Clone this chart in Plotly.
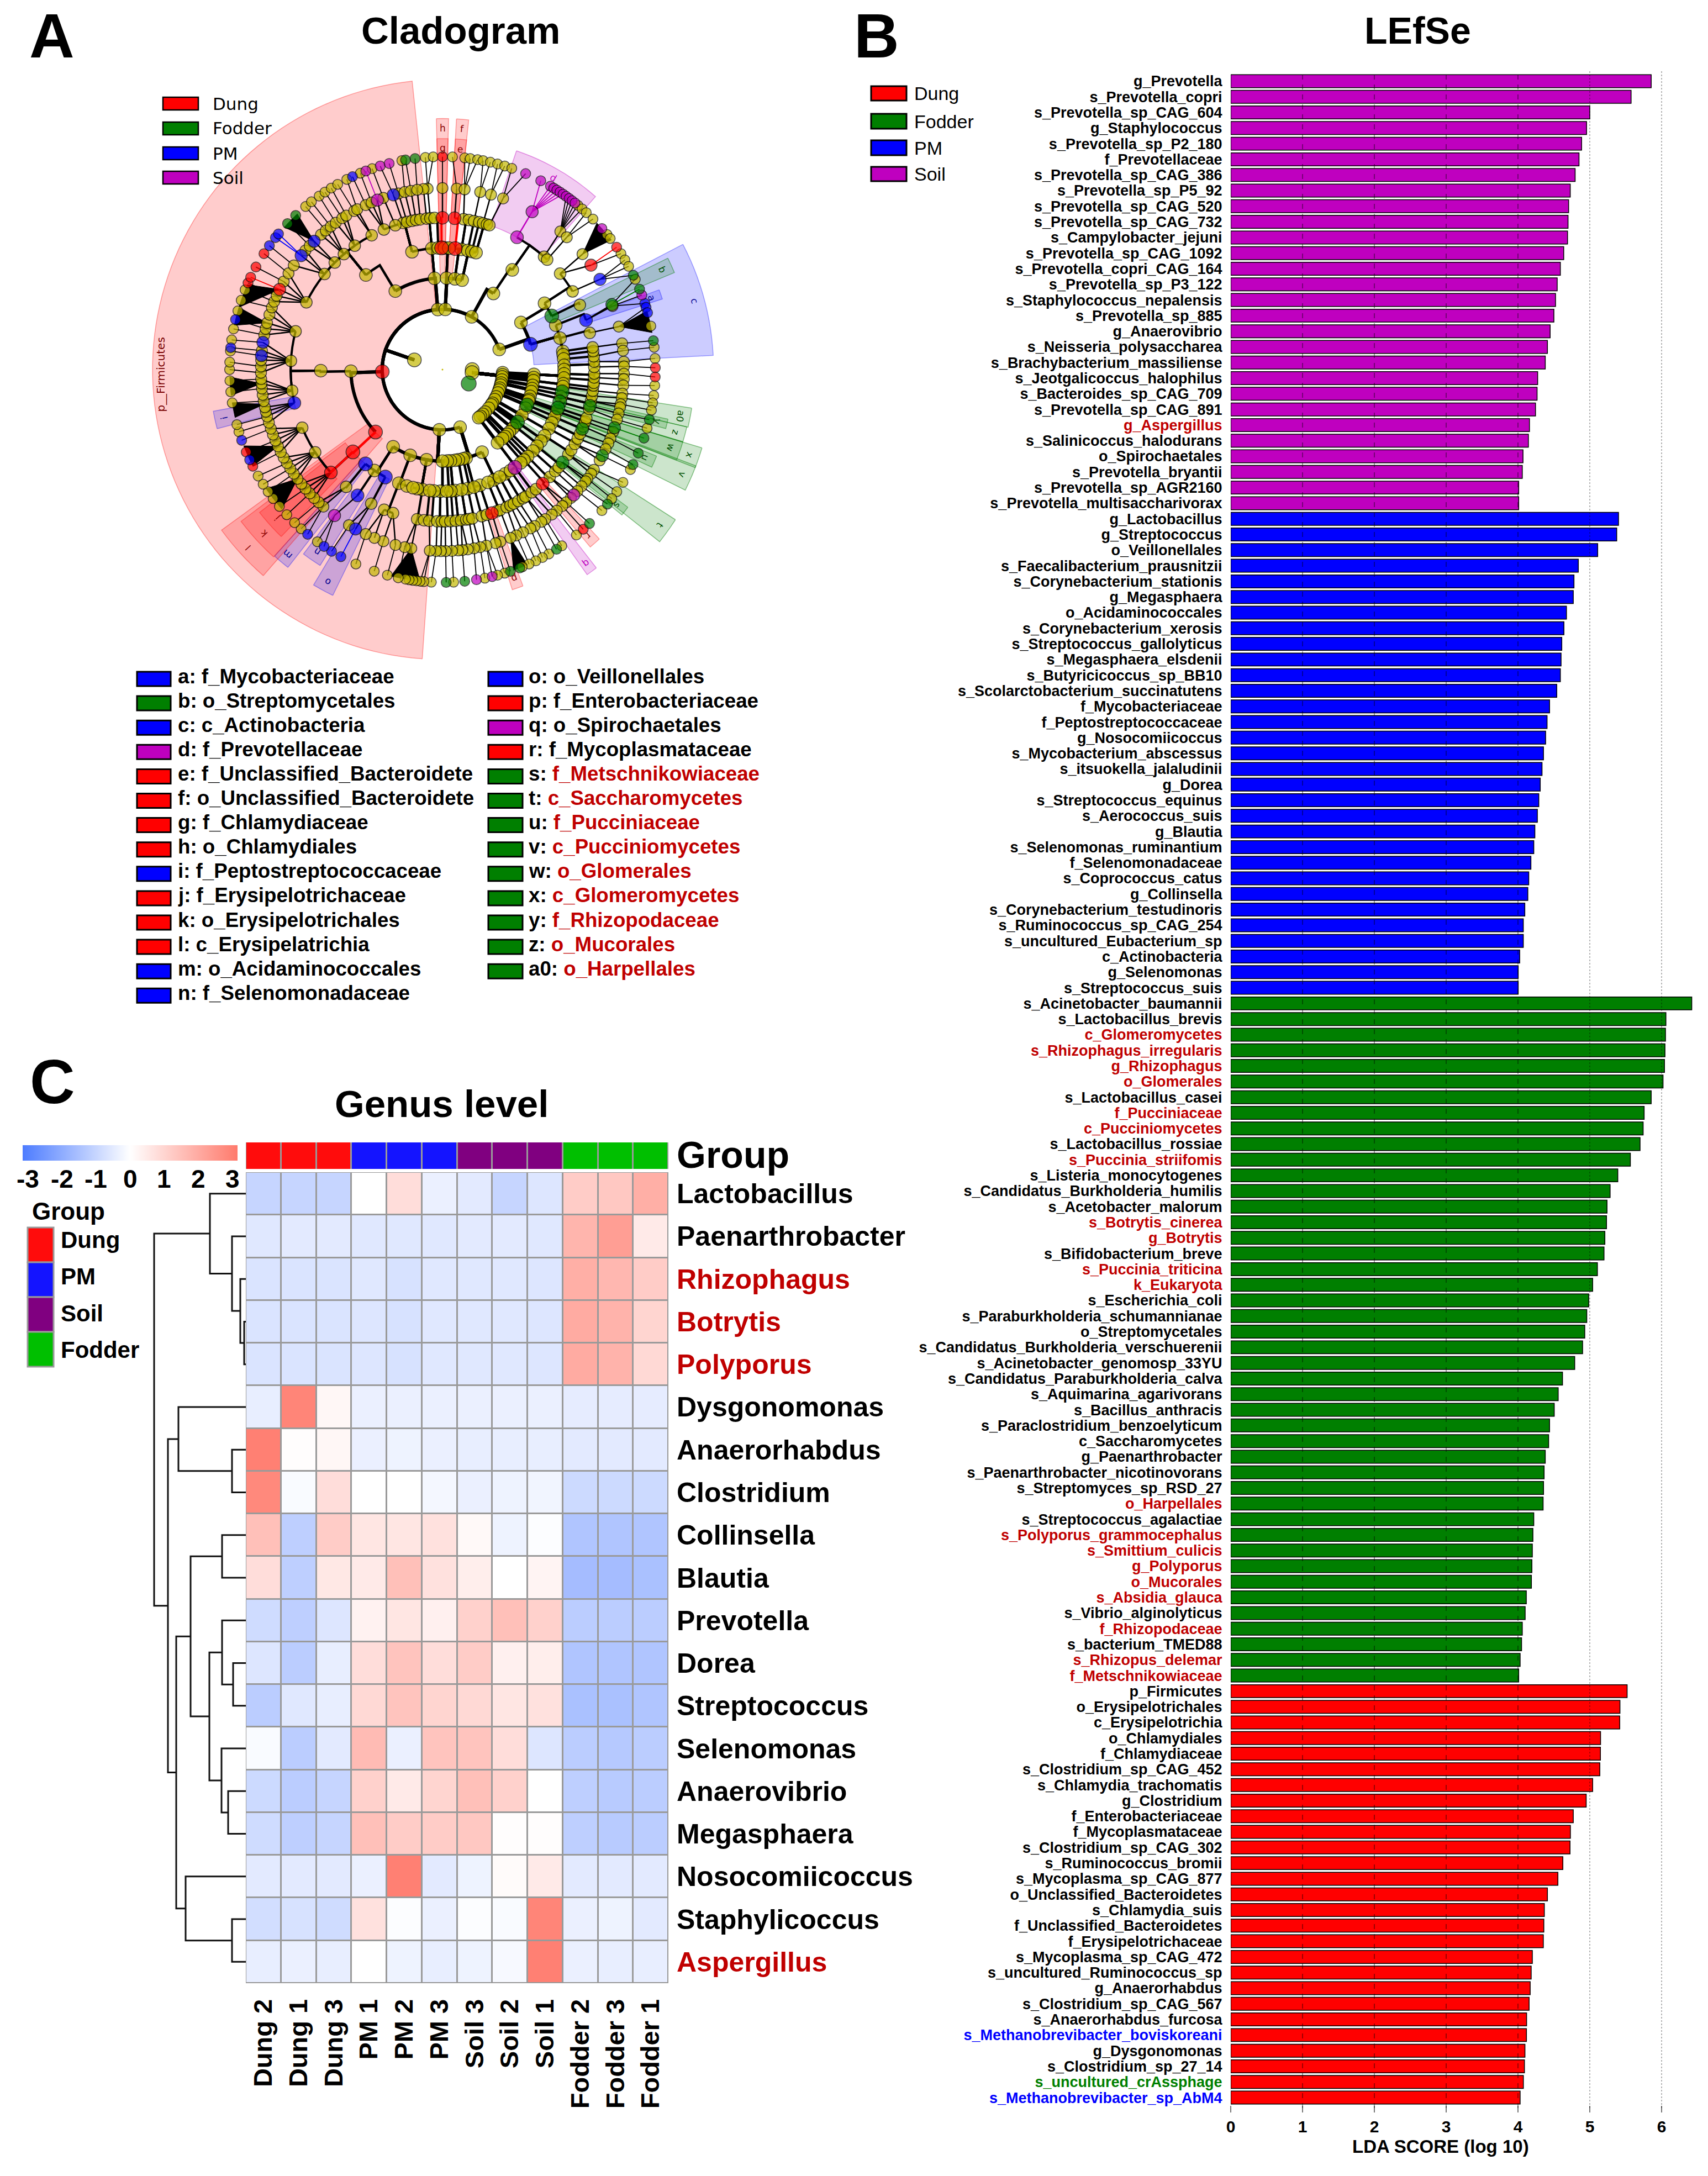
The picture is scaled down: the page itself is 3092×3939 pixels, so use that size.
import math
import plotly.graph_objects as go

W, H = 3092, 3939
ARIAL = "Liberation Sans"
RED, GREEN, BLUE, PURPLE, OLIVE = "#FF0000", "#007F00", "#0000FF", "#BF00BF", "#C4B800"
DARKRED = "#C00000"

# ------------------------------------------------------------------ LEfSe data
SOIL_NAMES = ["g_Prevotella", "s_Prevotella_copri", "s_Prevotella_sp_CAG_604", "g_Staphylococcus", "s_Prevotella_sp_P2_180", "f_Prevotellaceae", "s_Prevotella_sp_CAG_386", "s_Prevotella_sp_P5_92", "s_Prevotella_sp_CAG_520", "s_Prevotella_sp_CAG_732", "s_Campylobacter_jejuni", "s_Prevotella_sp_CAG_1092", "s_Prevotella_copri_CAG_164", "s_Prevotella_sp_P3_122", "s_Staphylococcus_nepalensis", "s_Prevotella_sp_885", "g_Anaerovibrio", "s_Neisseria_polysaccharea", "s_Brachybacterium_massiliense", "s_Jeotgalicoccus_halophilus", "s_Bacteroides_sp_CAG_709", "s_Prevotella_sp_CAG_891", "g_Aspergillus", "s_Salinicoccus_halodurans", "o_Spirochaetales", "s_Prevotella_bryantii", "s_Prevotella_sp_AGR2160", "s_Prevotella_multisaccharivorax"]
SOIL_VALUES = [5.855, 5.575, 5.0, 4.955, 4.886, 4.85, 4.796, 4.728, 4.705, 4.697, 4.69, 4.637, 4.59, 4.546, 4.523, 4.5, 4.448, 4.41, 4.38, 4.274, 4.266, 4.244, 4.16, 4.145, 4.07, 4.06, 4.01, 4.01]
PM_NAMES = ["g_Lactobacillus", "g_Streptococcus", "o_Veillonellales", "s_Faecalibacterium_prausnitzii", "s_Corynebacterium_stationis", "g_Megasphaera", "o_Acidaminococcales", "s_Corynebacterium_xerosis", "s_Streptococcus_gallolyticus", "s_Megasphaera_elsdenii", "s_Butyricicoccus_sp_BB10", "s_Scolarctobacterium_succinatutens", "f_Mycobacteriaceae", "f_Peptostreptococcaceae", "g_Nosocomiicoccus", "s_Mycobacterium_abscessus", "s_itsuokella_jalaludinii", "g_Dorea", "s_Streptococcus_equinus", "s_Aerococcus_suis", "g_Blautia", "s_Selenomonas_ruminantium", "f_Selenomonadaceae", "s_Coprococcus_catus", "g_Collinsella", "s_Corynebacterium_testudinoris", "s_Ruminococcus_sp_CAG_254", "s_uncultured_Eubacterium_sp", "c_Actinobacteria", "g_Selenomonas", "s_Streptococcus_suis"]
PM_VALUES = [5.40, 5.375, 5.11, 4.84, 4.78, 4.77, 4.675, 4.64, 4.61, 4.60, 4.59, 4.54, 4.44, 4.405, 4.385, 4.355, 4.335, 4.31, 4.29, 4.27, 4.235, 4.22, 4.18, 4.15, 4.137, 4.095, 4.074, 4.074, 4.024, 4.003, 4.003]
FODDER_NAMES = ["s_Acinetobacter_baumannii", "s_Lactobacillus_brevis", "c_Glomeromycetes", "s_Rhizophagus_irregularis", "g_Rhizophagus", "o_Glomerales", "s_Lactobacillus_casei", "f_Pucciniaceae", "c_Pucciniomycetes", "s_Lactobacillus_rossiae", "s_Puccinia_striifomis", "s_Listeria_monocytogenes", "s_Candidatus_Burkholderia_humilis", "s_Acetobacter_malorum", "s_Botrytis_cinerea", "g_Botrytis", "s_Bifidobacterium_breve", "s_Puccinia_triticina", "k_Eukaryota", "s_Escherichia_coli", "s_Paraburkholderia_schumannianae", "o_Streptomycetales", "s_Candidatus_Burkholderia_verschuerenii", "s_Acinetobacter_genomosp_33YU", "s_Candidatus_Paraburkholderia_calva", "s_Aquimarina_agarivorans", "s_Bacillus_anthracis", "s_Paraclostridium_benzoelyticum", "c_Saccharomycetes", "g_Paenarthrobacter", "s_Paenarthrobacter_nicotinovorans", "s_Streptomyces_sp_RSD_27", "o_Harpellales", "s_Streptococcus_agalactiae", "s_Polyporus_grammocephalus", "s_Smittium_culicis", "g_Polyporus", "o_Mucorales", "s_Absidia_glauca", "s_Vibrio_alginolyticus", "f_Rhizopodaceae", "s_bacterium_TMED88", "s_Rhizopus_delemar", "f_Metschnikowiaceae"]
FODDER_VALUES = [6.42, 6.06, 6.054, 6.047, 6.04, 6.02, 5.855, 5.757, 5.743, 5.70, 5.565, 5.39, 5.283, 5.24, 5.233, 5.21, 5.198, 5.106, 5.04, 4.985, 4.958, 4.93, 4.90, 4.79, 4.62, 4.56, 4.505, 4.44, 4.427, 4.38, 4.364, 4.356, 4.35, 4.22, 4.208, 4.20, 4.194, 4.187, 4.116, 4.10, 4.06, 4.05, 4.03, 4.01]
DUNG_NAMES = ["p_Firmicutes", "o_Erysipelotrichales", "c_Erysipelotrichia", "o_Chlamydiales", "f_Chlamydiaceae", "s_Clostridium_sp_CAG_452", "s_Chlamydia_trachomatis", "g_Clostridium", "f_Enterobacteriaceae", "f_Mycoplasmataceae", "s_Clostridium_sp_CAG_302", "s_Ruminococcus_bromii", "s_Mycoplasma_sp_CAG_877", "o_Unclassified_Bacteroidetes", "s_Chlamydia_suis", "f_Unclassified_Bacteroidetes", "f_Erysipelotrichaceae", "s_Mycoplasma_sp_CAG_472", "s_uncultured_Ruminococcus_sp", "g_Anaerorhabdus", "s_Clostridium_sp_CAG_567", "s_Anaerorhabdus_furcosa", "s_Methanobrevibacter_boviskoreani", "g_Dysgonomonas", "s_Clostridium_sp_27_14", "s_uncultured_crAssphage", "s_Methanobrevibacter_sp_AbM4"]
DUNG_VALUES = [5.52, 5.42, 5.417, 5.15, 5.148, 5.14, 5.04, 4.95, 4.77, 4.73, 4.725, 4.625, 4.556, 4.41, 4.367, 4.36, 4.353, 4.20, 4.184, 4.17, 4.155, 4.12, 4.118, 4.097, 4.09, 4.075, 4.03]
RED_LABELS = ["g_Aspergillus", "c_Glomeromycetes", "s_Rhizophagus_irregularis", "g_Rhizophagus", "o_Glomerales", "f_Pucciniaceae", "c_Pucciniomycetes", "s_Puccinia_striifomis", "s_Botrytis_cinerea", "g_Botrytis", "s_Puccinia_triticina", "k_Eukaryota", "o_Harpellales", "s_Polyporus_grammocephalus", "s_Smittium_culicis", "g_Polyporus", "o_Mucorales", "s_Absidia_glauca", "f_Rhizopodaceae", "s_Rhizopus_delemar", "f_Metschnikowiaceae"]
BLUE_LABELS = ["s_Methanobrevibacter_boviskoreani", "s_Methanobrevibacter_sp_AbM4"]
GREEN_LABELS = ["s_uncultured_crAssphage"]
LDA_TICKS = [0, 1, 2, 3, 4, 5, 6]

# ------------------------------------------------------------------ heatmap data
GENERA = ["Lactobacillus", "Paenarthrobacter", "Rhizophagus", "Botrytis", "Polyporus", "Dysgonomonas", "Anaerorhabdus", "Clostridium", "Collinsella", "Blautia", "Prevotella", "Dorea", "Streptococcus", "Selenomonas", "Anaerovibrio", "Megasphaera", "Nosocomiicoccus", "Staphylicoccus", "Aspergillus"]
RED_GENERA = ["Rhizophagus", "Botrytis", "Polyporus", "Aspergillus"]
SAMPLES = ["Dung 2", "Dung 1", "Dung 3", "PM 1", "PM 2", "PM 3", "Soil 3", "Soil 2", "Soil 1", "Fodder 2", "Fodder 3", "Fodder 1"]
SAMPLE_GROUP = [0, 0, 0, 1, 1, 1, 2, 2, 2, 3, 3, 3]
SCALE_TICKS = [-3, -2, -1, 0, 1, 2, 3]
HEAT = [
    [-1, -1, -1, 0.0, .8, -.35, -.5, -1, -.6, 1.2, 1.3, 1.9],
    [-.55, -.5, -.5, -.55, -.55, -.55, -.5, -.5, -.55, 1.75, 2.3, .5],
    [-.65, -.65, -.65, -.55, -.7, -.55, -.55, -.55, -.6, 1.9, 1.7, 1.2],
    [-.65, -.65, -.65, -.6, -.7, -.55, -.55, -.55, -.6, 2.0, 1.8, 1.0],
    [-.65, -.65, -.65, -.6, -.7, -.55, -.55, -.55, -.6, 2.0, 1.8, .9],
    [-.4, 2.9, .2, -.35, -.35, -.35, -.35, -.35, -.35, -.45, -.45, -.45],
    [3, .05, .2, -.35, -.3, -.35, -.4, -.4, -.4, -.5, -.5, -.5],
    [2.8, -.1, .8, 0, 0, -.2, -.35, -.3, -.25, -.9, -.9, -.9],
    [1.5, -1.15, 1.2, .6, .6, .7, .15, -.3, -.05, -1.4, -1.4, -1.4],
    [.8, -1.15, .55, .5, 1.5, .7, .4, .0, .25, -1.6, -1.6, -1.5],
    [-.85, -1.15, -.6, .3, .6, .35, 1.1, 1.5, 1.1, -1.2, -1.2, -1.2],
    [-.6, -1.2, -.4, .8, 1.4, .8, 1.2, .35, .4, -1.4, -1.4, -1.4],
    [-1.2, -.55, -.4, .9, 1.4, 1.0, .9, .6, .7, -1.5, -1.5, -1.4],
    [-.1, -1.2, -.5, 1.6, -.35, 1.4, 1.4, .8, -.6, -1.2, -1.3, -1.2],
    [-.9, -1.2, -1.0, 1.1, .5, 1.0, 1.5, 1.1, 0, -1.15, -1.25, -1.2],
    [-.85, -1.15, -1.0, 1.5, 1.2, 1.2, 1.3, .05, .05, -1.15, -1.25, -1.2],
    [-.5, -.5, -.5, -.35, 3, -.5, -.3, .1, .5, -.5, -.5, -.5],
    [-.8, -.7, -.85, .7, -.05, -.35, -.05, -.1, 2.9, -.35, -.3, -.5],
    [-.4, -.35, -.4, 0, -.3, -.4, -.3, -.15, 3, -.35, -.4, -.4],
]
# (left id, right id, height); leaves are 0-18, each merge takes the next id
MERGES = [(3, 4, 3), (2, 19, 10), (1, 20, 25), (0, 21, 65), (6, 7, 25), (5, 23, 122), (8, 9, 43), (11, 12, 23), (10, 26, 43), (14, 15, 32), (13, 28, 44), (27, 29, 66), (25, 30, 100), (17, 18, 25), (16, 32, 109), (31, 33, 126), (24, 34, 141), (22, 35, 166)]
GROUP_COLORS = ["#FF0C0C", "#1414FF", "#800080", "#00BF00"]
GROUP_NAMES = ["Dung", "PM", "Soil", "Fodder"]

# ------------------------------------------------------------------ cladogram data
# theta: degrees clockwise from north, r: ring radius
RINGS = [74, 150, 228, 303, 378, 452, 530]
RING_SIZES = [25, 23, 23, 23, 21, 20, 18]
RING_WIDTHS = [0, 6, 6, 4.5, 4, 2.5, 1.8]
R0 = {"y": [289, 90, 96], "g": [118]}
R1_BACTERIA = {"y": [355.5, 2.7, 29, 70.5, 163, 183], "r": [268]}
R1_EUKARYA = {"y": [93, 95, 97, 100, 103, 105, 108, 110, 113, 117, 120, 124, 126, 130, 135, 138, 141, 143]}
R2 = {"y": [355, 2.5, 7.8, 12.4, 33.8, 329, 59, 269, 93, 95, 97, 100, 102, 104, 107, 109, 110, 115, 120, 128, 130, 133, 135, 137, 139, 143, 154.4, 165, 167, 170, 172, 175, 177, 180, 190, 200.6, 212.6], "r": [227], "b": [74], "g": [112.7, 125]}
R3 = {"y": [355, 358, 1, 3, 9, 12, 14, 16, 35, 345.5, 321, 269.5, 214, 201, 197, 189.5, 181, 174, 168, 162, 155, 149, 57, 68.6, 75, 81.4, 83, 85, 88, 90, 92, 94, 96.7, 98, 103, 110, 113, 116, 119, 123, 126, 129, 132, 135.6, 138, 140, 146, 152, 158, 165, 171, 176, 178, 184, 186, 192, 194], "r": [359.6, 6, 227.4], "b": [219.2, 208], "p": [143.5], "g": [63.9, 100.5, 105.4, 108.4]}
R4 = {"y": [345, 346.5, 348.4, 350, 351.6, 354, 355.4, 357, 8, 10, 12, 14, 15.5, 17, 18, 42, 43.6, 50.8, 341.9, 337.3, 332.2, 324.7, 319.5, 314.8, 309, 296.3, 284.6, 273.3, 262, 247.5, 237, 219.4, 208, 202.6, 199, 189.6, 187, 185, 182, 180.3, 179, 177, 175, 173, 171, 170, 168.6, 165, 163, 159, 157.7, 155, 153.4, 152, 150, 148, 146.8, 144, 142, 135, 132, 130, 124, 122, 119.3, 117, 115, 112, 110, 108.7, 105, 102, 100, 98, 96, 95, 93, 91.5, 89, 87, 85, 83, 81.6, 76, 64.8, 59], "r": [0, 4.6, 227.3, 161, 138.7], "b": [214, 257.3, 71], "p": [29.4], "g": [127.7, 113, 103.8]}
R5 = {"y": [355.3, 354, 0, 4.5, 7, 12, 15.5, 19.5, 40.5, 43.2, 50.5, 69.5, 76.3, 81.7, 84, 87.5, 89, 91.3, 93, 95, 97.6, 99, 101, 102, 104, 106, 110, 112.3, 114, 116, 120, 123.5, 125, 127, 128, 130, 132, 135, 137, 138.7, 141, 143, 145.5, 147, 149.5, 151, 153.7, 156, 158, 161.4, 163, 166, 168, 170, 172, 173.7, 175, 177, 179, 180.5, 182, 184, 189.9, 192, 195, 199, 202, 205, 211, 221, 223, 225, 227, 229, 231, 233, 235, 237, 239, 241, 243, 245, 247, 249, 251, 253, 255, 256.6, 258, 260, 262, 264, 265.6, 267, 269, 271, 273, 276, 281, 283, 284.9, 287.6, 290, 292, 294, 299, 302, 305, 311, 313, 318, 320, 322, 324, 326.5, 328, 330.9, 332, 335, 337, 341, 346, 348, 350, 352], "r": [54.9, 296.2], "b": [60.2, 208.6, 274.4, 278.6, 308.9, 315, 344.3], "p": [29.6, 133.7, 216.5, 339], "g": [69, 108.7, 118.3]}
R6 = {
    "y": [2.7, 6, 7.5, 9.5, 11, 13, 15, 17, 19, 39.5, 41, 42.5, 45, 50.6, 52, 57, 59, 61, 64.9, 78.2, 84, 87, 94.3, 97, 99, 101, 106, 118, 122, 125, 127.3, 131.5, 141, 145.9, 150, 152, 154, 156, 158, 163, 165, 168.5, 177, 183, 185, 186, 187, 188, 189, 190, 192, 195, 198.7, 204, 216, 221.6, 224, 227, 230, 232.7, 235, 237.4, 240, 253, 255, 261, 264, 267, 270, 272, 275, 278, 281, 286, 289, 292, 320, 322, 324.6, 326.5, 328.5, 330.5, 333.3, 337.3, 340.7, 349, 355.4, 357.5],
    "r": [0, 54.9, 89.5, 92, 138.6, 243, 247.2, 294, 295.7, 298.8, 303],
    "b": [71.9, 73, 74.5, 208.5, 211.4, 213.8, 219.3, 244.9, 250.6, 275.9, 283.6, 305.6, 308.3, 309.6, 335],
    "p": [23, 27.5, 30.5, 31.5, 32.5, 33.5, 34.5, 35.5, 36.5, 37.5, 38.5, 48.5, 69.5, 166.5, 170.8, 338.9, 343, 345.5],
    "g": [63.7, 67.8, 82.2, 103.6, 108.8, 113.1, 116.5, 129.2, 136.3, 147.6, 158.7, 161.4, 174, 179, 313.3, 316.4, 350, 352.6],
}
# dense fans: (apex ring, apex theta, first theta, last theta)
FANS = [(5, 315, 312, 317), (5, 50.5, 46.5, 52.5), (5, 76.3, 74, 80), (5, 189.9, 186, 194), (5, 158, 156.5, 160.5), (5, 245, 243, 249), (5, 296.2, 287, 293.5), (5, 284.9, 282, 287), (5, 265.6, 263, 268), (5, 259, 257, 261), (5, 233, 229, 236)]
# highlighted clades: letter, colour, centre theta, half width, inner r, outer r
CLADES = [
    ("c", "b", 74.75, 12.25, 228, 675), ("d", "p", 30.1, 11.4, 378, 575),
    ("h", "r", 0, 1.4, 228, 625), ("g", "r", 0, 1.4, 300, 575), ("f", "r", 4.6, 1.4, 228, 625), ("e", "r", 4.6, 1.4, 300, 575),
    ("b", "g", 65.5, 1.8, 303, 626), ("a", "b", 71, 1.2, 378, 575),
    ("a0", "g", 101, 2.2, 303, 628), ("y", "g", 103.6, 1.2, 378, 575), ("z", "g", 105, 1.8, 303, 625), ("w", "g", 108.9, 2.2, 303, 625), ("x", "g", 109, 2.2, 228, 675),
    ("u", "g", 113.5, 1.5, 378, 575), ("v", "g", 113.6, 2.8, 228, 675), ("t", "g", 125.6, 2.8, 228, 690), ("s", "g", 127.8, 1.2, 378, 575),
    ("r", "r", 138.7, 1.5, 378, 575), ("q", "p", 143.5, 1.3, 303, 625), ("p", "r", 161, 1.4, 378, 575),
    ("o", "b", 208.4, 2.5, 303, 625), ("n", "b", 214.5, 2.5, 378, 575), ("m", "b", 220, 2, 303, 625),
    ("l", "r", 227.5, 6.5, 228, 680), ("k", "r", 227.5, 5.5, 303, 628), ("j", "r", 228, 4, 378, 578), ("i", "b", 257.5, 2.2, 378, 580),
]
FIRMICUTES = (269, 85, 150, 722)
LEFT_KEY = [("a: f_Mycobacteriaceae", "b"), ("b: o_Streptomycetales", "g"), ("c: c_Actinobacteria", "b"), ("d: f_Prevotellaceae", "p"), ("e: f_Unclassified_Bacteroidete", "r"), ("f: o_Unclassified_Bacteroidete", "r"), ("g: f_Chlamydiaceae", "r"), ("h: o_Chlamydiales", "r"), ("i: f_Peptostreptococcaceae", "b"), ("j: f_Erysipelotrichaceae", "r"), ("k: o_Erysipelotrichales", "r"), ("l: c_Erysipelatrichia", "r"), ("m: o_Acidaminococcales", "b"), ("n: f_Selenomonadaceae", "b")]
RIGHT_KEY = [("o: o_Veillonellales", "b"), ("p: f_Enterobacteriaceae", "r"), ("q: o_Spirochaetales", "p"), ("r: f_Mycoplasmataceae", "r"), ("s: |f_Metschnikowiaceae", "g"), ("t: |c_Saccharomycetes", "g"), ("u: |f_Pucciniaceae", "g"), ("v: |c_Pucciniomycetes", "g"), ("w: |o_Glomerales", "g"), ("x: |c_Glomeromycetes", "g"), ("y: |f_Rhizopodaceae", "g"), ("z: |o_Mucorales", "g"), ("a0: |o_Harpellales", "g")]
FOUR_GROUPS = [("Dung", "r"), ("Fodder", "g"), ("PM", "b"), ("Soil", "p")]

PALETTE = {"y": OLIVE, "r": RED, "g": GREEN, "b": BLUE, "p": PURPLE}
TEXTCOL = {"r": "#8B0000", "g": "#005000", "b": "#000090", "p": "#BF00BF"}
FILLS = {"r": "rgba(255,0,0,0.2)", "g": "rgba(0,127,0,0.2)", "b": "rgba(0,0,255,0.2)", "p": "rgba(191,0,191,0.2)"}
EDGES = {"r": "rgba(255,0,0,0.35)", "g": "rgba(0,127,0,0.45)", "b": "rgba(0,0,255,0.35)", "p": "rgba(191,0,191,0.4)"}

# ------------------------------------------------------------------ helpers
def X(p): return p / W
def Y(p): return 1 - p / H

annotations, shapes = [], []
def text(x, y, s, size, bold=True, color="black", anchor="left", angle=0, family=ARIAL, yanchor="middle"):
    if bold:
        s = f"<b>{s}</b>"
    annotations.append(dict(x=X(x), y=Y(y), xref="paper", yref="paper", text=s, showarrow=False, xanchor=anchor, yanchor=yanchor,
                            textangle=angle, font=dict(size=size, color=color, family=family)))
def swatch(x0, y0, x1, y1, fill, line="black", lw=3):
    shapes.append(dict(type="rect", xref="paper", yref="paper", x0=X(x0), x1=X(x1), y0=Y(y0), y1=Y(y1), fillcolor=fill, line=dict(color=line, width=lw)))

fig = go.Figure()

# ------------------------------------------------------------------ panel A
def ang_diff(a, b):
    d = abs(a - b) % 360
    return min(d, 360 - d)

def flat(d):
    return [(t, c) for c, ts in d.items() for t in ts]

def wedge(theta_c, half, rin, rout):
    steps = max(2, int(half) + 1)
    ths = [theta_c - half + 2 * half * i / steps for i in range(steps + 1)]
    return ths + ths[::-1] + [ths[0]], [rout] * len(ths) + [rin] * len(ths) + [rout]

RADIUS_PX = 538
CX, CY = 801, 669
RMAX = 740
def clade_xy(theta, r):
    k = RADIUS_PX / RMAX
    return CX + r * k * math.sin(math.radians(theta)), CY - r * k * math.cos(math.radians(theta))

th, rr = wedge(*FIRMICUTES)
fig.add_trace(go.Scatterpolar(theta=th, r=rr, mode="lines", fill="toself", fillcolor=FILLS["r"], line=dict(color=EDGES["r"], width=1.5), hoverinfo="skip", showlegend=False, subplot="polar"))
for letter, col, tc, half, rin, rout in CLADES:
    th, rr = wedge(tc, half, rin, rout)
    fig.add_trace(go.Scatterpolar(theta=th, r=rr, mode="lines", fill="toself", fillcolor=FILLS[col], line=dict(color=EDGES[col], width=1.5), hoverinfo="skip", showlegend=False, subplot="polar"))
    px, py = clade_xy(tc, rout - 24)
    text(px, py, letter, 17, bold=False, color=TEXTCOL[col], anchor="center", angle=(tc if tc < 180 else tc - 360), family="DejaVu Sans")
text(*clade_xy(269, 702), "p__Firmicutes", 20, bold=False, color="#7A0000", anchor="center", angle=-90, family="DejaVu Sans")

nodes = [flat(R0), flat(R1_BACTERIA) + flat(R1_EUKARYA), flat(R2), flat(R3), flat(R4), flat(R5), flat(R6)]
EUK = flat(R1_EUKARYA)
edge_groups = {}
def add_edge(key, ths, rs):
    g = edge_groups.setdefault(key, ([], []))
    g[0].extend(ths + [None])
    g[1].extend(rs + [None])

for ring in range(1, 7):
    for t, c in nodes[ring]:
        if ring == 1:
            pt, pc = (96, "y") if (t, c) in EUK else (289, "y")
        else:
            pt, pc = min(nodes[ring - 1], key=lambda n: ang_diff(n[0], t))
        col = PALETTE[c] if (c == pc and c != "y" and ring >= 3) else "black"
        rp, rc = RINGS[ring - 1], RINGS[ring]
        if ring <= 4:
            delta = ((t - pt + 180) % 360) - 180
            n = max(1, int(abs(delta) / 3))
            ths = [pt] + [pt + delta * i / n for i in range(n + 1)]
            rs = [rp] + [rc] * (n + 1)
        else:
            ths, rs = [pt, t], [rp, rc]
        add_edge((col, RING_WIDTHS[ring]), ths, rs)

for apex_ring, apex, t0, t1 in FANS:
    fig.add_trace(go.Scatterpolar(theta=[apex, t0, (t0 + t1) / 2, t1, apex], r=[RINGS[apex_ring], RINGS[6], RINGS[6], RINGS[6], RINGS[apex_ring]], mode="lines", fill="toself", fillcolor="black", line=dict(color="black", width=1), hoverinfo="skip", showlegend=False, subplot="polar"))
for (col, width), (ths, rs) in sorted(edge_groups.items(), key=lambda kv: kv[0][0] != "black"):
    fig.add_trace(go.Scatterpolar(theta=ths, r=rs, mode="lines", line=dict(color=col, width=width), hoverinfo="skip", showlegend=False, subplot="polar"))
for ring in range(6, -1, -1):
    pts = sorted(nodes[ring], key=lambda n: n[1] != "y")
    fig.add_trace(go.Scatterpolar(theta=[p[0] for p in pts], r=[RINGS[ring]] * len(pts), mode="markers",
                                  marker=dict(size=[RING_SIZES[ring] + (2 if p[1] != "y" and ring < 6 else 0) for p in pts], color=[PALETTE[p[1]] for p in pts], line=dict(color="black", width=1.5)),
                                  hoverinfo="skip", showlegend=False, subplot="polar"))
fig.add_trace(go.Scatterpolar(theta=[0], r=[0], mode="markers", marker=dict(size=3, color=OLIVE), hoverinfo="skip", showlegend=False, subplot="polar"))

for (name, c), (y0, y1) in zip(FOUR_GROUPS, [(176, 199), (221, 244), (266, 289), (310, 333)]):
    swatch(295, y0, 359, y1, PALETTE[c], lw=2.5)
    text(383, (y0 + y1) / 2, name, 31, bold=False, family="DejaVu Sans")

for i, (label, c) in enumerate(LEFT_KEY):
    yc = 1229 + 44.1 * i
    swatch(248, yc - 13, 309, yc + 13, PALETTE[c])
    text(320, yc - 5, label, 36.7)
for i, (label, c) in enumerate(RIGHT_KEY):
    yc = 1229 + 44.1 * i
    swatch(884, yc - 13, 946, yc + 13, PALETTE[c])
    if "|" in label:
        a, b = label.split("|")
        s = f"{a}<span style='color:{DARKRED}'>{b}</span>"
    else:
        s = label
    text(955, yc - 5, s, 36.7)

# ------------------------------------------------------------------ panel B
def styled(n):
    if n in RED_LABELS:
        return f"<span style='color:{DARKRED}'>{n}</span>"
    if n in BLUE_LABELS:
        return f"<span style='color:#0000FF'>{n}</span>"
    if n in GREEN_LABELS:
        return f"<span style='color:#008000'>{n}</span>"
    return n

ALL_NAMES = SOIL_NAMES + PM_NAMES + FODDER_NAMES + DUNG_NAMES
for names, values, col in [(SOIL_NAMES, SOIL_VALUES, PURPLE), (PM_NAMES, PM_VALUES, BLUE), (FODDER_NAMES, FODDER_VALUES, GREEN), (DUNG_NAMES, DUNG_VALUES, RED)]:
    fig.add_trace(go.Bar(x=values, y=names, orientation="h", width=0.83, marker=dict(color=col, line=dict(color="black", width=1.5)), hoverinfo="skip", showlegend=False, xaxis="x", yaxis="y"))
for v in LDA_TICKS[1:]:
    shapes.append(dict(type="line", xref="x", yref="paper", x0=v, x1=v, y0=Y(3816), y1=Y(126), layer="above",
                       line=dict(color="rgba(0,0,0,0.5)" if v < 5 else "rgba(0,0,0,0.4)", width=1.5, dash="dash" if v < 5 else "dot")))
for (name, c), (y0, y1) in zip(FOUR_GROUPS, [(156, 182), (206, 233), (254, 281), (302, 328)]):
    swatch(1577, y0, 1641, y1, PALETTE[c])
    text(1653, (y0 + y1) / 2, name, 34, bold=False)
text(2608, 3885, "LDA SCORE (log 10)", 33, anchor="center")

# ------------------------------------------------------------------ panel C
ZMIN, ZMAX = -3.15, 3.15
BAR_X0, BAR_LEN = 41, 389
fig.add_trace(go.Heatmap(z=HEAT, x=list(range(12)), y=list(range(19)), xaxis="x2", yaxis="y2", xgap=3, ygap=3, zmin=ZMIN, zmax=ZMAX,
                         colorscale=[[0, "#4D7CFF"], [0.5, "#FFFFFF"], [1, "#FF7A6C"]], hoverinfo="skip",
                         colorbar=dict(orientation="h", x=X(BAR_X0), xanchor="left", y=Y(2073), yanchor="top", thickness=28, thicknessmode="pixels", len=BAR_LEN, lenmode="pixels",
                                       outlinewidth=0, tickmode="array", tickvals=SCALE_TICKS, ticks="", showticklabels=False, xpad=0, ypad=0)))
for v in SCALE_TICKS:
    text(BAR_X0 + (v - ZMIN) / (ZMAX - ZMIN) * BAR_LEN, 2134, str(v), 46, anchor="center")
fig.add_trace(go.Heatmap(z=[SAMPLE_GROUP], x=list(range(12)), y=[0], xaxis="x3", yaxis="y3", xgap=3, ygap=0, zmin=0, zmax=3, showscale=False, hoverinfo="skip",
                         colorscale=[[0, GROUP_COLORS[0]], [.25, GROUP_COLORS[0]], [.25, GROUP_COLORS[1]], [.5, GROUP_COLORS[1]], [.5, GROUP_COLORS[2]], [.75, GROUP_COLORS[2]], [.75, GROUP_COLORS[3]], [1, GROUP_COLORS[3]]]))
pos = {i: (float(i), 0.0) for i in range(19)}
dx, dy = [], []
for k, (a, b, h) in enumerate(MERGES):
    (ya, ha), (yb, hb) = pos[a], pos[b]
    dx += [ha, h, h, hb, None]
    dy += [ya, ya, yb, yb, None]
    pos[19 + k] = ((ya + yb) / 2, h)
fig.add_trace(go.Scatter(x=dx, y=dy, mode="lines", line=dict(color="#111111", width=3), hoverinfo="skip", showlegend=False, xaxis="x4", yaxis="y2"))
shapes.append(dict(type="rect", xref="x2", yref="y2", x0=-0.5, x1=11.5, y0=-0.5, y1=18.5, layer="below", fillcolor="#9A9A9A", line=dict(color="#9A9A9A", width=3)))
shapes.append(dict(type="rect", xref="x3", yref="y3", x0=-0.5, x1=11.5, y0=-0.5, y1=0.5, layer="below", fillcolor="#9A9A9A", line=dict(color="#9A9A9A", width=3)))

text(56, 2192, "Group", 44)
for i, (name, col) in enumerate(zip(GROUP_NAMES, GROUP_COLORS)):
    swatch(50, 2222 + 63 * i, 97, 2222 + 63 * (i + 1), col, line="#9A9A9A", lw=3)
    text(108, 2244 + 66.5 * i, name, 42)
text(1223, 2090, "Group", 68)

# ------------------------------------------------------------------ titles
text(94, 0, "A", 113, anchor="center", yanchor="top")
text(1587, 0, "B", 113, anchor="center", yanchor="top")
text(95, 1958, "C", 113, anchor="center")
text(834, 55, "Cladogram", 69, anchor="center")
text(2566, 55, "LEfSe", 68, anchor="center")
text(799, 1998, "Genus level", 69, anchor="center")

hide = dict(showgrid=False, zeroline=False, showline=False, ticks="", showticklabels=False)
fig.update_layout(
    width=W, height=H, margin=dict(l=0, r=0, t=0, b=0, autoexpand=False), paper_bgcolor="white", plot_bgcolor="rgba(0,0,0,0)", showlegend=False, barmode="overlay",
    font=dict(family=ARIAL, color="black"), annotations=annotations, shapes=shapes,
    polar=dict(domain=dict(x=[X(CX - RADIUS_PX), X(CX + RADIUS_PX)], y=[Y(CY + RADIUS_PX), Y(CY - RADIUS_PX)]), bgcolor="rgba(0,0,0,0)",
               radialaxis=dict(range=[0, RMAX], visible=False), angularaxis=dict(rotation=90, direction="clockwise", visible=False)),
    xaxis=dict(domain=[X(2228), X(3072)], anchor="y", range=[0, 844 / 130], tickmode="array", tickvals=LDA_TICKS, showgrid=False, zeroline=False, showline=False,
               ticks="outside", ticklen=12, tickwidth=1.5, tickcolor="#777777", tickfont=dict(size=30, family=ARIAL, weight="bold")),
    yaxis=dict(domain=[Y(3811.2), Y(132.8)], anchor="x", type="category", categoryorder="array", categoryarray=ALL_NAMES, range=[129.5, -0.5], tickmode="array",
               tickvals=ALL_NAMES, ticktext=[styled(n) for n in ALL_NAMES], showgrid=False, zeroline=False, showline=False, ticks="outside", ticklen=9, tickcolor="rgba(0,0,0,0)",
               tickfont=dict(size=27, family=ARIAL, weight="bold")),
    xaxis2=dict(domain=[X(445), X(1210)], anchor="y2", range=[-0.5, 11.5], tickmode="array", tickvals=list(range(12)), ticktext=SAMPLES, tickangle=-90, showgrid=False, zeroline=False,
                ticks="outside", ticklen=9, tickcolor="rgba(0,0,0,0)", tickfont=dict(size=47, family=ARIAL, weight="bold")),
    yaxis2=dict(domain=[Y(3590), Y(2122)], anchor="x2", side="right", range=[18.5, -0.5], tickmode="array", tickvals=list(range(19)),
                ticktext=[f"<span style='color:{DARKRED}'>{g}</span>" if g in RED_GENERA else g for g in GENERA], showgrid=False, zeroline=False,
                ticks="outside", ticklen=4, tickcolor="rgba(0,0,0,0)", tickfont=dict(size=50, family=ARIAL, weight="bold")),
    xaxis3=dict(domain=[X(445), X(1210)], anchor="y3", range=[-0.5, 11.5], **hide),
    yaxis3=dict(domain=[Y(2116), Y(2068)], anchor="x3", range=[-0.5, 0.5], **hide),
    xaxis4=dict(domain=[X(275), X(445)], anchor="y2", range=[170, 0], **hide),
)
fig.write_html("out.html", config={"displayModeBar": False}, post_script="document.body.style.margin='0';")
